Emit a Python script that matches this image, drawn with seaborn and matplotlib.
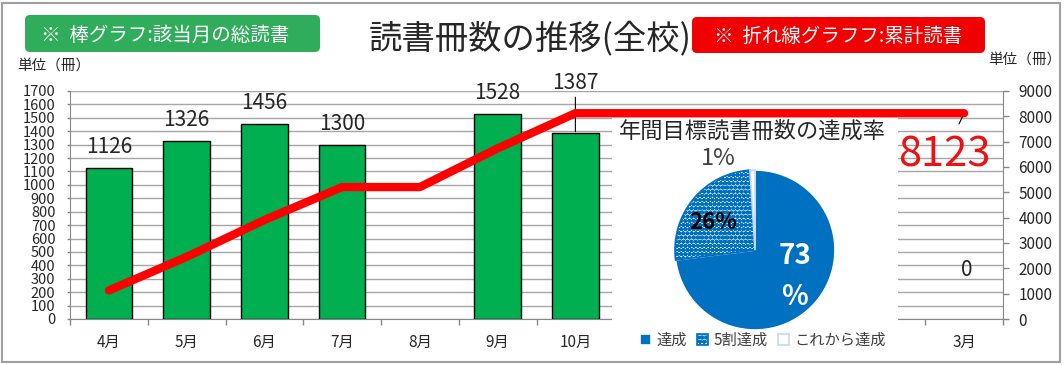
import matplotlib.pyplot as plt
import matplotlib.transforms as mtransforms
from matplotlib.patches import FancyBboxPatch, Rectangle
import numpy as np
import pandas as pd
import seaborn as sns

# data
months = ['4月', '5月', '6月', '7月', '8月', '9月', '10月', '11月', '12月', '1月', '2月', '3月']
monthly_books = [1126, 1326, 1456, 1300, 0, 1528, 1387, 0, 0, 0, 0, 0]
cumulative_books = [1126, 2452, 3908, 5208, 5208, 6736, 8123, 8123, 8123, 8123, 8123, 8123]
hidden_months = ['11月', '12月', '1月', '2月']  # covered by the pie panel

pie_labels = ['達成', '5割達成', 'これから達成']
pie_values = [73, 26, 1]

W, H = 1064, 365


def fx(px):
    return px / W


def fy(py):
    return 1 - py / H


sns.set_style('white')
plt.rcParams['font.family'] = ['Noto Sans CJK JP', 'DejaVu Sans']
plt.rcParams['hatch.linewidth'] = 1.6

fig = plt.figure(figsize=(W / 100, H / 100), dpi=100)

df = pd.DataFrame({'month': months, 'books': monthly_books, 'total': cumulative_books})

# main axes (bars)
ax = fig.add_axes([fx(70), fy(319), fx(1003) - fx(70), fy(91) - fy(319)])
sns.barplot(data=df, x='month', y='books', order=months, color='#00b050', edgecolor='black',
            linewidth=1, width=0.6, saturation=1, ax=ax, zorder=2)
# empty months: no outline along the axis
for bar, v in zip(ax.patches, monthly_books):
    if v == 0:
        bar.set_linewidth(0)
ax.set_xlim(-0.5, 11.5)
ax.set_ylim(0, 1700)
ax.set_yticks(range(0, 1701, 100))
ax.yaxis.grid(True, color='#a6a6a6', lw=1)
ax.set_axisbelow(True)
ax.set_xlabel('')
ax.set_ylabel('')
ax.set_xticks(range(len(months)))
ax.set_xticklabels(['' if m in hidden_months else m for m in months])
ax.tick_params(axis='y', left=True, length=2.5, width=1, color='#888888', pad=8, labelsize=10.5)
ax.set_xticks(np.arange(-0.5, 12, 1), minor=True)
ax.tick_params(axis='x', which='major', length=0, pad=11, labelsize=11)
ax.tick_params(axis='x', which='minor', bottom=True, length=4.5, width=1, color='#888888')
for s in ['top', 'right']:
    ax.spines[s].set_visible(False)
for s in ['left', 'bottom']:
    ax.spines[s].set_color('#888888')

for i, v in enumerate(monthly_books):
    if v == 0:
        continue
    if months[i] == '10月':
        ax.annotate(str(v), xy=(i, v), xytext=(0, 50), textcoords='offset pixels',
                    ha='center', va='center', fontsize=15,
                    arrowprops=dict(arrowstyle='-', color='black', lw=0.8, shrinkA=0, shrinkB=1))
    else:
        ax.annotate(str(v), xy=(i, v), xytext=(0, 21), textcoords='offset pixels',
                    ha='center', va='center', fontsize=15)
# the 3月 label sits high above its empty bar
ax.annotate(str(monthly_books[-1]), xy=(11, monthly_books[-1]), xytext=(3, 49),
            textcoords='offset pixels', ha='center', va='center', fontsize=15)

# cumulative line on the right axis
ax2 = ax.twinx()
sns.lineplot(x=np.arange(len(months)), y=df['total'], color='#ff0000', lw=6,
             solid_capstyle='round', ax=ax2, zorder=3)
ax2.set_ylim(0, 9000)
ax2.set_yticks(range(0, 9001, 1000))
ax2.set_ylabel('')
ax2.tick_params(axis='y', right=True, length=4, width=1, color='#888888', pad=7, labelsize=11)
for s in ['top', 'left', 'bottom']:
    ax2.spines[s].set_visible(False)
ax2.spines['right'].set_color('#888888')
ax2.annotate(str(cumulative_books[-1]), xy=(11, cumulative_books[-1]), xytext=(-20, -42),
             textcoords='offset pixels', ha='center', va='center', fontsize=30, color='#ee1111',
             arrowprops=dict(arrowstyle='-', color='black', lw=0.8, shrinkA=6, shrinkB=3))

# white panel with the pie
panel = fig.add_axes([fx(612), fy(352), fx(898) - fx(612), fy(118) - fy(352)])
panel.set_facecolor('white')
panel.set_xticks([])
panel.set_yticks([])
for s in panel.spines.values():
    s.set_visible(False)

ax_pie = fig.add_axes([fx(675), fy(330), 160 / W, 160 / H])
wedges, _ = ax_pie.pie(pie_values, startangle=90, counterclock=False,
                       colors=['#0070c0', 'white', 'white'],
                       wedgeprops=dict(edgecolor='white', linewidth=1.2))
wedges[1].set_hatch('oooo')
wedges[1].set_edgecolor('#0070c0')
wedges[2].set_edgecolor('#c5d9f1')
ax_pie.set_xlim(-1, 1)
ax_pie.set_ylim(-1, 1)
ax_pie.text(0.5, -0.33, '73\n%', color='white', fontsize=20, fontweight='bold',
            ha='center', va='center', linespacing=1.6)
ax_pie.text(-0.52, 0.34, '26%', color='black', fontsize=16, fontweight='bold',
            ha='center', va='center')
ax_pie.text(-0.46, 1.14, '1%', color='#404040', fontsize=17, ha='center', va='center')
ax_pie.legend(wedges, pie_labels, loc='center', bbox_to_anchor=(fx(763), fy(340)),
              bbox_transform=fig.transFigure, ncol=3, frameon=False, fontsize=11,
              handlelength=0.7, handleheight=0.7, handletextpad=0.35, columnspacing=0.7,
              borderpad=0, labelcolor='#404040')
fig.text(fx(752), fy(131), '年間目標読書冊数の達成率', fontsize=16, ha='center', va='center')

# header boxes and title
pix = mtransforms.IdentityTransform()
fig.patches.append(FancyBboxPatch((25, H - 52), 295, 37, boxstyle='round,pad=0,rounding_size=5',
                                  fc='#2fad5b', ec='none', transform=pix, figure=fig))
fig.patches.append(FancyBboxPatch((692, H - 53), 293, 36, boxstyle='round,pad=0,rounding_size=5',
                                  fc='#f00000', ec='none', transform=pix, figure=fig))
fig.text(fx(165), fy(35), '※  棒グラフ:該当月の総読書', color='white', fontsize=14, ha='center', va='center')
fig.text(fx(838), fy(36), '※  折れ線グラフフ:累計読書', color='white', fontsize=14, ha='center', va='center')
fig.text(fx(530), fy(40), '読書冊数の推移(全校)', fontsize=24, ha='center', va='center')
fig.text(fx(17), fy(66), '単位（冊）', fontsize=10.5, ha='left', va='center')
fig.text(fx(988), fy(60), '単位（冊）', fontsize=10.5, ha='left', va='center')

fig.patches.append(Rectangle((fx(2), fy(362)), fx(1060) - fx(2), fy(3) - fy(362), fill=False,
                             ec='#a0a0a0', lw=1.5, transform=fig.transFigure, figure=fig))

fig.savefig('out.png', dpi=100)
